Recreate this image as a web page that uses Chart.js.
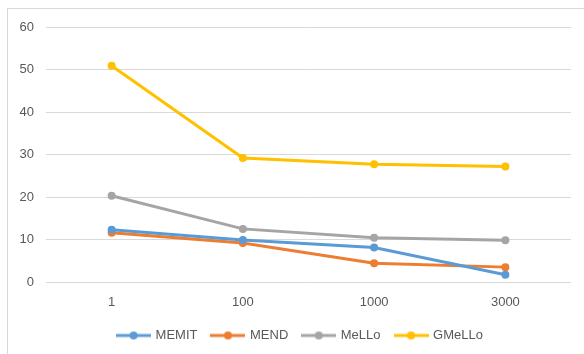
<!DOCTYPE html>
<html>
<head>
<meta charset="utf-8">
<script src="https://cdn.jsdelivr.net/npm/chart.js@4.4.1/dist/chart.umd.min.js"></script>
<style>
    html, body { margin: 0; padding: 0; background: #fff; overflow: hidden; }
    #frame {
        position: absolute; left: 7px; top: 8px; width: 600px; height: 400px;
        border: 1px solid #d9d9d9; box-sizing: border-box;
    }
    #wrap { position: absolute; left: 0; top: 0; width: 584px; height: 354px; }
</style>
</head>
<body>
<div id="frame"></div>
<div id="wrap"><canvas id="chart" width="584" height="354"></canvas></div>
<script>
// Data
const categories = ['1', '100', '1000', '3000'];
const memit = [12.3, 9.9, 8.1, 1.7];
const mend = [11.6, 9.2, 4.4, 3.5];
const mello = [20.3, 12.5, 10.4, 9.8];
const gmello = [50.9, 29.2, 27.7, 27.2];
const yTicks = [0, 10, 20, 30, 40, 50, 60];

const seriesNames = ['MEMIT', 'MEND', 'MeLLo', 'GMeLLo'];
const seriesColors = ['#5B9BD5', '#ED7D31', '#A5A5A5', '#FFC000'];
const seriesData = [memit, mend, mello, gmello];

// legend marker: short line with a dot in the middle, like Excel
function legendMarker(color) {
    const c = document.createElement('canvas');
    c.width = 35;
    c.height = 10;
    const ctx = c.getContext('2d');
    ctx.strokeStyle = color;
    ctx.lineWidth = 3;
    ctx.beginPath();
    ctx.moveTo(0, 5);
    ctx.lineTo(35, 5);
    ctx.stroke();
    ctx.fillStyle = color;
    ctx.beginPath();
    ctx.arc(17.5, 5, 4, 0, Math.PI * 2);
    ctx.fill();
    return c;
}

const datasets = seriesNames.map((name, i) => ({
    label: name,
    data: seriesData[i],
    borderColor: seriesColors[i],
    backgroundColor: seriesColors[i],
    borderWidth: 3,
    pointRadius: 4,
    pointHoverRadius: 4,
    pointBorderWidth: 0,
    tension: 0,
    legendMarker: legendMarker(seriesColors[i])
}));

const font = { family: '"Liberation Sans", Arial, sans-serif', size: 13 };

// the legend sits centred on the frame, not on the canvas
const shiftLegend = {
    id: 'shiftLegend',
    afterLayout(chart) {
        chart.legend.left += 15;
        chart.legend.right += 15;
        chart.legend.top += 1;
        chart.legend.bottom += 1;
    }
};

new Chart(document.getElementById('chart'), {
    type: 'line',
    data: { labels: categories, datasets: datasets },
    plugins: [shiftLegend],
    options: {
        responsive: false,
        animation: false,
        layout: { padding: { left: 0, right: 13, top: 27, bottom: 3 } },
        plugins: {
            tooltip: { enabled: false },
            legend: {
                position: 'bottom',
                labels: {
                    font: font,
                    color: '#595959',
                    usePointStyle: true,
                    pointStyleWidth: 31,
                    boxHeight: 10,
                    padding: 15,
                    generateLabels: (chart) => chart.data.datasets.map((ds, i) => ({
                        text: ds.label,
                        pointStyle: ds.legendMarker,
                        fillStyle: ds.borderColor,
                        strokeStyle: ds.borderColor,
                        lineWidth: 0,
                        fontColor: '#595959',
                        datasetIndex: i,
                        hidden: false
                    }))
                }
            }
        },
        scales: {
            x: {
                offset: true,
                grid: { display: false, drawTicks: false },
                border: { display: false },
                ticks: { font: font, color: '#595959', padding: 13 },
                afterFit: (scale) => { scale.height = 31; }
            },
            y: {
                min: 0,
                max: 60,
                afterBuildTicks: (scale) => { scale.ticks = yTicks.map(v => ({ value: v })); },
                grid: { color: '#d9d9d9', lineWidth: 1, drawTicks: false },
                border: { display: false },
                ticks: { font: font, color: '#595959', padding: 12 },
                afterFit: (scale) => { scale.width = 46; }
            }
        }
    }
});
</script>
</body>
</html>
